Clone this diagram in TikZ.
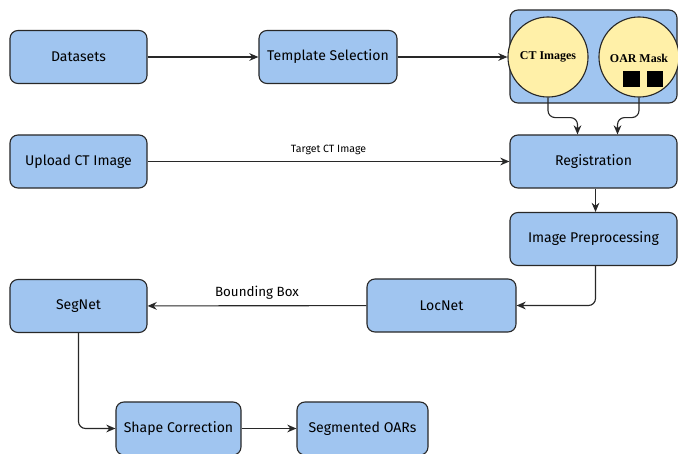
\documentclass[tikz,border=0pt]{standalone}
\usepackage{fontspec}
\setmainfont{Fira Sans}
\newfontfamily\circfont{Liberation Serif}
\usetikzlibrary{arrows.meta}

\definecolor{boxblue}{RGB}{160,197,240}
\definecolor{circyellow}{RGB}{255,240,168}
\definecolor{linegray}{RGB}{40,40,40}

\tikzset{
  stepbox/.style={draw=linegray,line width=0.8pt,rounded corners=0.2cm,fill=boxblue,
    minimum height=1.325cm,text=black,font=\fontsize{10}{12}\selectfont},
  imgcirc/.style={shape=circle,draw=linegray,line width=0.8pt,fill=circyellow,
    minimum size=2cm,inner sep=0pt,font=\circfont\bfseries\fontsize{8.5}{10}\selectfont},
  arr/.style={draw=linegray,line width=0.8pt,-{Stealth[length=6.5pt,width=5.5pt]}}
}

\begin{document}
\begin{tikzpicture}[x=0.025cm,y=-0.025cm]
		\useasboundingbox (0,0) rectangle (678,454);
		% top row
		\node[stepbox,minimum width=3.425cm] (data) at (78.5,57) {Datasets};
		\node[stepbox,minimum width=3.45cm] (tmpl) at (328,57) {Template Selection};
		\node[stepbox,minimum width=4.175cm,minimum height=2.325cm] (tgrp) at (593.5,56.5) {};
		\node[imgcirc] (ct) at (548,57) {CT Images};
		\node[imgcirc] (oar) at (639,57) {};
		\node[font=\circfont\bfseries\fontsize{8.5}{10}\selectfont] (oarlbl) at (639,58) {OAR Mask};
		\node[fill=black,minimum size=0.42cm,inner sep=0pt] (sqa) at (631.5,79) {};
		\node[fill=black,minimum size=0.42cm,inner sep=0pt] (sqb) at (655,79) {};
		% right column
		\node[stepbox,minimum width=4.175cm] (reg) at (593.5,161.5) {Registration};
		\node[stepbox,minimum width=4.175cm] (prep) at (593.5,239) {Image Preprocessing};
		\node[stepbox,minimum width=3.425cm] (upl) at (78.5,161.5) {Upload CT Image};
		\node[stepbox,minimum width=3.725cm] (loc) at (441.5,305.5) {LocNet};
		\node[stepbox,minimum width=3.425cm] (seg) at (78.5,306) {SegNet};
		\node[stepbox,minimum width=3.125cm] (shp) at (178.5,428.5) {Shape Correction};
		\node[stepbox,minimum width=3.275cm] (sego) at (362.5,428.5) {Segmented OARs};

        \draw [arr] (data) -- (tmpl);
        \draw [arr] (tmpl) -- (ct);
        \draw [arr,rounded corners=5pt] (ct.south) -- ++(0,20) -| ([xshift=-0.4cm]reg.north);
        \draw [arr,rounded corners=5pt] (oar.south) -- ++(0,20) -| ([xshift=0.6cm]reg.north);
        \draw [arr] (upl) -- node[above=1pt,font=\fontsize{7.5}{9}\selectfont] {Target CT Image} (reg);
        \draw [arr] ([xshift=0.05cm]reg.south) -- ([xshift=0.05cm]prep.north);
        \draw [arr,rounded corners=5pt] ([xshift=0.05cm]prep.south) |- (loc.east);
        \draw [arr] (loc) -- node[above=1pt,font=\fontsize{9.5}{11}\selectfont] {Bounding Box} (seg);
        \draw [arr,rounded corners=5pt] (seg.south) |- (shp.west);
        \draw [arr] (shp) -- (sego);
\end{tikzpicture}
\end{document}
